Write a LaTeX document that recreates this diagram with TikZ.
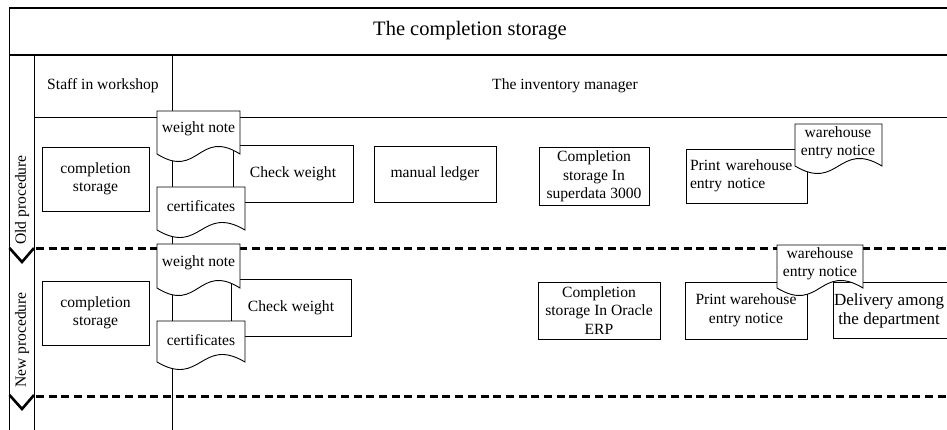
\documentclass[tikz,border=0pt]{standalone}
\usepackage{fontspec}
\setmainfont{Liberation Serif}
\newcommand{\docshape}[4]{%
  \draw[docline] (#1,#2) -- (#3,#2) -- (#3,#4)
    .. controls ({(#1+#3)/2},{#4-26}) and ({(#1+#3)/2},{#4+26}) .. (#1,#4) -- cycle;}
\begin{document}
\begin{tikzpicture}[x=1pt,y=-1pt,
  frame/.style={line width=1.3pt},
  thinline/.style={line width=0.9pt},
  lanedash/.style={line width=3pt, dash pattern=on 8pt off 4.7pt},
  chev/.style={line width=2.6pt},
  box/.style={draw, line width=0.9pt, fill=white, inner sep=3pt, align=center, font=\fontsize{15.6}{18.5}\selectfont},
  txt/.style={inner sep=0pt, align=center, font=\fontsize{15.6}{18.5}\selectfont},
  docline/.style={draw, line width=0.9pt, fill=white}]
\useasboundingbox (0,0) rectangle (947,430);
\clip (0,0) rectangle (947,430);
\fill[white] (0,0) rectangle (947,430);
% frame and lanes
\draw[frame] (9.5,432) -- (9.5,8) -- (950,8);
\draw[line width=2.2pt] (9.5,55) -- (950,55);
\draw[thinline] (34,55) -- (34,432);
\draw[thinline] (172,55) -- (172,432);
\draw[thinline] (34,117) -- (950,117);
\draw[lanedash] (36,249) -- (950,249);
\draw[lanedash] (36,396) -- (950,396);
\draw[chev] (9.5,248) -- (22,262) -- (34,248);
\draw[chev] (9.5,395) -- (22,409) -- (34,395);
% headings
\node[inner sep=0pt, font=\fontsize{20.5}{24}\selectfont] (title) at (470,31) {The completion storage};
\node[txt] (staff) at (103,86) {Staff in workshop};
\node[txt] (inv) at (565,86) {The inventory manager};
\node[txt, rotate=90] (old) at (22,200) {Old procedure};
\node[txt, rotate=90] (new) at (22,340) {New procedure};
% old procedure boxes
\node[box, minimum width=107, minimum height=64] (cs1) at (95.5,179) {completion\\storage};
\node[box, minimum width=120, minimum height=57] (cw1) at (293,173.5) {Check weight};
\node[box, minimum width=122, minimum height=56] (ml1) at (435,174) {manual ledger};
\node[box, minimum width=110, minimum height=57] (sd) at (594,176.5) {Completion\\storage In\\superdata 3000};
\node[box, minimum width=121, minimum height=54, text width=113, align=left, inner sep=4pt] (pw1) at (746.5,176) {Print warehouse\\entry notice};
% old procedure documents
\docshape{157}{111}{240}{154}
\node[txt] (wn1) at (198.5,129) {weight note};
\docshape{157}{187}{245}{230}
\node[txt] (ce1) at (201,206) {certificates};
\docshape{795}{124}{882}{166}
\node[txt] (wen1) at (838,143) {warehouse\\entry notice};
% new procedure boxes
\node[box, minimum width=107, minimum height=64] (cs2) at (95.5,313) {completion\\storage};
\node[box, minimum width=120, minimum height=57] (cw2) at (291,307.5) {Check weight};
\node[box, minimum width=122, minimum height=57] (oe) at (599,310.5) {Completion\\storage In Oracle\\ERP};
\node[box, minimum width=122, minimum height=57] (pw2) at (746,310.5) {Print warehouse\\entry notice};
\node[box, minimum width=122, minimum height=56, anchor=west] (del) at (833,310) {};
\node[txt, font=\fontsize{17}{18.5}\selectfont] (deltext) at (889,311) {Delivery among\\the department};
% new procedure documents
\docshape{157}{244}{240}{288}
\node[txt] (wn2) at (198.5,263) {weight note};
\docshape{157}{321}{245}{362}
\node[txt] (ce2) at (201,340) {certificates};
\docshape{777}{245}{863}{288}
\node[txt] (wen2) at (820,264) {warehouse\\entry notice};
\end{tikzpicture}
\end{document}
